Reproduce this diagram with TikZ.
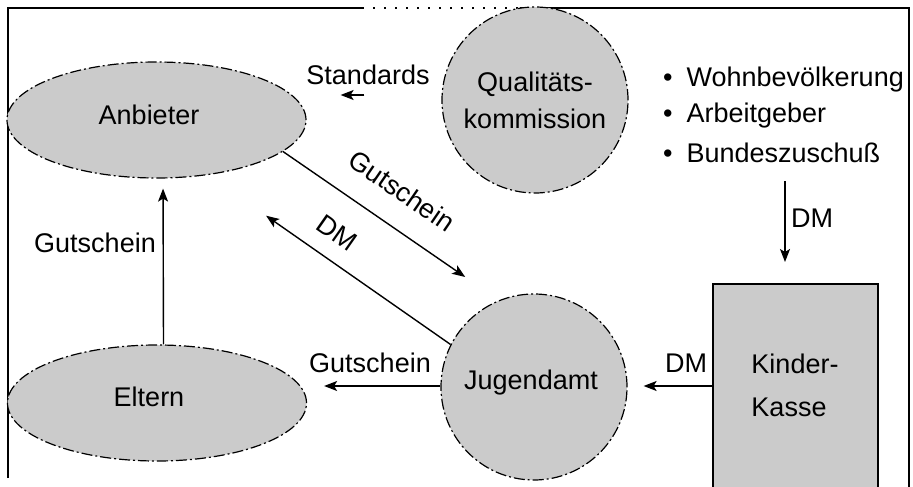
\documentclass[tikz,border=0pt]{standalone}
\usepackage{fontspec}
\setmainfont{Liberation Sans}
\usetikzlibrary{shapes.geometric,arrows.meta,calc}
\definecolor{shade}{RGB}{203,203,203}
\begin{document}
\begin{tikzpicture}[x=1pt,y=-1pt,
  font=\fontsize{27}{37}\selectfont,
  outline/.style={draw=black, line width=1.2pt, fill=shade,
     dash pattern=on 11pt off 3pt on 2pt off 3pt},
  oval/.style={outline, ellipse, inner sep=0pt, minimum width=299pt, minimum height=116pt},
  disc/.style={outline, circle, inner sep=0pt, minimum size=186pt, align=center},
  arr/.style={line width=1.4pt, -{Stealth[length=13pt,width=10pt,inset=3pt]}},
  lbl/.style={inner sep=0pt},
  frame/.style={line width=2.2pt}
]
\useasboundingbox (0,0) rectangle (913,487);

% outer frame (open at the bottom)
\draw[frame] (8,478) -- (8,8) -- (362,8);
\draw[frame, dash pattern=on 2pt off 9pt] (362,8) -- (520,8);
\draw[frame] (520,8) -- (909,8) -- (909,487);

% nodes
\node[oval] (anbieter) at (156.5,120) {};
\node[lbl] (anbietertext) at (149,115) {Anbieter};
\node[oval] (eltern) at (157,403) {};
\node[lbl] (elterntext) at (149,397) {Eltern};
\node[disc] (quali) at (535,100) {Qualitäts-\\kommission};
\node[disc] (jugend) at (534,387) {};
\node[lbl] (jugendtext) at (531,383) {Jugendamt};

% Kinder-Kasse box (runs off the bottom edge)
\node[draw=black, line width=1.6pt, fill=shade, minimum width=165pt,
      minimum height=260pt, anchor=north, inner sep=0pt] (kassebox) at (795.5,283) {};
\node[lbl, align=left, font=\fontsize{27}{43}\selectfont] (kasse) at (795,385) {Kinder-\\Kasse};

% bullet list
\node[lbl, anchor=west] (wohn) at (663,80) {\textbullet\hspace{14pt}Wohnbevölkerung};
\node[lbl, anchor=west] (arbeit) at (663,116) {\textbullet\hspace{14pt}Arbeitgeber};
\node[lbl, anchor=west] (bund) at (663,153) {\textbullet\hspace{14pt}Bundeszuschuß};

% connectors
\draw[arr, shorten <=77pt, shorten >=34pt]
  ([yshift=5pt]quali.west) -- ([yshift=5pt]quali.west -| anbieter.east);
\node[lbl] (stdlbl) at (368,75) {Standards};

\draw[arr, shorten >=41pt] (anbieter.-14) -- (jugend.112);
\node[lbl, rotate=-34.5] (gutdiag) at (402,191) {Gutschein};

\draw[arr, shorten >=71pt] (jugend.153) -- (anbieter.-47);
\node[lbl, rotate=-35] (dmdiag) at (337,233) {DM};

\draw[arr, shorten >=10pt] ([xshift=6.5pt]eltern.north) -- ([xshift=6.5pt]anbieter.south);
\node[lbl] (gutvert) at (95,243) {Gutschein};

\draw[arr, shorten >=17pt] ([yshift=1pt]jugend.west) -- ([yshift=1pt]jugend.west -| eltern.east);
\node[lbl] (guthor) at (370,363) {Gutschein};

\draw[arr, shorten >=16pt] ([yshift=1pt]kassebox.west |- jugend.east) -- ([yshift=1pt]jugend.east);
\node[lbl] (dmhor) at (686,363) {DM};

\draw[arr, shorten <=18pt, shorten >=21pt]
  ([xshift=-10.5pt]kassebox.north |- bund.south) -- ([xshift=-10.5pt]kassebox.north);
\node[lbl, anchor=west] (dmvert) at (791,218) {DM};
\end{tikzpicture}
\end{document}
